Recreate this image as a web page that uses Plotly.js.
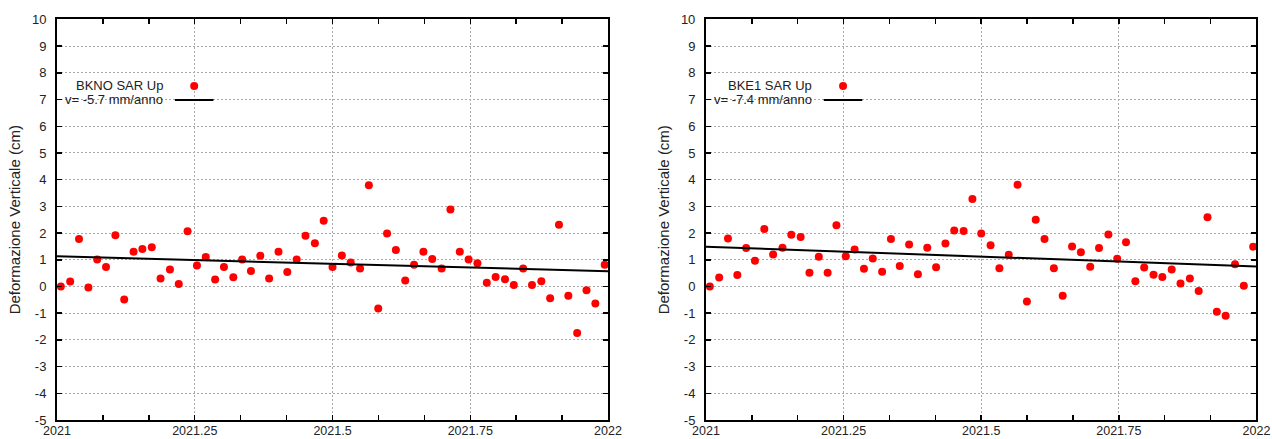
<!DOCTYPE html>
<html>
<head>
<meta charset="utf-8">
<script src="https://cdn.plot.ly/plotly-3.0.1.min.js"></script>
<style>
  html, body { margin: 0; padding: 0; background: #fff; }
  #chart { width: 1272px; height: 439px; }
</style>
</head>
<body>
<div id="chart"></div>
<script>
// Acquisition dates (decimal years)
const dates = [2021.007, 2021.024, 2021.040, 2021.057, 2021.073, 2021.089, 2021.106, 2021.122, 2021.139, 2021.155,
  2021.172, 2021.188, 2021.205, 2021.221, 2021.237, 2021.254, 2021.270, 2021.287, 2021.303, 2021.320,
  2021.336, 2021.352, 2021.369, 2021.385, 2021.402, 2021.418, 2021.435, 2021.451, 2021.468, 2021.484,
  2021.500, 2021.517, 2021.533, 2021.550, 2021.566, 2021.583, 2021.599, 2021.615, 2021.632, 2021.648,
  2021.665, 2021.681, 2021.698, 2021.714, 2021.731, 2021.747, 2021.763, 2021.780, 2021.796, 2021.813,
  2021.829, 2021.846, 2021.862, 2021.879, 2021.895, 2021.911, 2021.928, 2021.944, 2021.961, 2021.977,
  2021.994];

// BKNO SAR Up (cm)
const bknoUp = [0.00, 0.19, 1.78, -0.04, 1.01, 0.73, 1.92, -0.49, 1.30, 1.40,
  1.47, 0.30, 0.64, 0.09, 2.07, 0.79, 1.10, 0.26, 0.73, 0.35,
  1.01, 0.58, 1.15, 0.30, 1.30, 0.54, 1.01, 1.90, 1.62, 2.46,
  0.73, 1.16, 0.90, 0.67, 3.79, -0.82, 1.98, 1.37, 0.22, 0.81,
  1.30, 1.03, 0.67, 2.88, 1.30, 1.01, 0.87, 0.14, 0.36, 0.27,
  0.06, 0.67, 0.06, 0.20, -0.44, 2.31, -0.35, -1.74, -0.14, -0.64,
  0.81];

// BKE1 SAR Up (cm)
const bke1Up = [0.00, 0.34, 1.80, 0.43, 1.44, 0.96, 2.15, 1.20, 1.45, 1.94,
  1.85, 0.51, 1.11, 0.51, 2.29, 1.13, 1.39, 0.66, 1.05, 0.55,
  1.78, 0.77, 1.57, 0.46, 1.45, 0.72, 1.61, 2.10, 2.08, 3.28,
  1.98, 1.54, 0.68, 1.19, 3.81, -0.56, 2.50, 1.78, 0.68, -0.35,
  1.50, 1.28, 0.74, 1.44, 1.95, 1.04, 1.66, 0.20, 0.71, 0.44,
  0.36, 0.64, 0.11, 0.30, -0.17, 2.59, -0.95, -1.10, 0.83, 0.03,
  1.49];

// Linear trends
const trendYears = [2021, 2022];
const bknoTrend = [1.13, 0.57];
const bke1Trend = [1.49, 0.75];

// Labels
const bknoName = 'BKNO SAR Up';
const bknoRate = 'v= -5.7 mm/anno';
const bke1Name = 'BKE1 SAR Up';
const bke1Rate = 'v= -7.4 mm/anno';
const yTitle = 'Deformazione Verticale (cm)';

// Ticks
const xTickVals = [2021, 2021.25, 2021.5, 2021.75, 2022];
const xTickText = ['2021', '2021.25', '2021.5', '2021.75', '2022'];
const yTickVals = [-5, -4, -3, -2, -1, 0, 1, 2, 3, 4, 5, 6, 7, 8, 9, 10];
const yTickText = yTickVals.map(String);

const RED = 'rgb(255,0,0)';
const FONT = 'Liberation Sans, Arial, sans-serif';
const TXT = '#222';

const traces = [
  { x: dates, y: bknoUp, xaxis: 'x', yaxis: 'y', type: 'scatter', mode: 'markers',
    marker: { color: RED, size: 8 }, showlegend: false, hoverinfo: 'skip' },
  { x: trendYears, y: bknoTrend, xaxis: 'x', yaxis: 'y', type: 'scatter', mode: 'lines',
    line: { color: '#000', width: 2 }, showlegend: false, hoverinfo: 'skip' },
  { x: dates, y: bke1Up, xaxis: 'x2', yaxis: 'y2', type: 'scatter', mode: 'markers',
    marker: { color: RED, size: 8 }, showlegend: false, hoverinfo: 'skip' },
  { x: trendYears, y: bke1Trend, xaxis: 'x2', yaxis: 'y2', type: 'scatter', mode: 'lines',
    line: { color: '#000', width: 2 }, showlegend: false, hoverinfo: 'skip' }
];

function xAxis(domain, anchor) {
  return {
    domain: domain, anchor: anchor, range: [2021, 2022],
    tickmode: 'array', tickvals: xTickVals, ticktext: xTickText,
    ticks: 'inside', ticklen: 5, tickwidth: 1.5, tickcolor: '#000',
    showline: true, linecolor: '#000', linewidth: 2, mirror: 'ticks',
    showgrid: true, gridcolor: '#aaa', gridwidth: 1, griddash: '2px,2px',
    zeroline: false, automargin: false,
    tickfont: { family: FONT, size: 12.5, color: TXT },
    ticklabelstandoff: -2,
    minor: { dtick: 1/12, tick0: 2021, ticks: 'inside', ticklen: 5, tickwidth: 1.5, tickcolor: '#000', showgrid: false }
  };
}
function yAxis(anchor) {
  return {
    domain: [0.0433, 0.9556], anchor: anchor, range: [-5, 10],
    tickmode: 'array', tickvals: yTickVals, ticktext: yTickText,
    ticks: 'inside', ticklen: 5, tickwidth: 1.5, tickcolor: '#000',
    showline: true, linecolor: '#000', linewidth: 2, mirror: 'ticks',
    showgrid: true, gridcolor: '#aaa', gridwidth: 1, griddash: '2px,2px',
    zeroline: false, automargin: false,
    tickfont: { family: FONT, size: 13, color: TXT },
    ticklabelstandoff: 6,
    title: { text: yTitle, font: { family: FONT, size: 15, color: TXT }, standoff: 8 }
  };
}

function legendParts(xr, yr, name, rate) {
  const ann = [
    { xref: xr + ' domain', yref: yr + ' domain', x: 0.196, y: 0.836, text: name, showarrow: false,
      xanchor: 'right', yanchor: 'middle', font: { family: FONT, size: 13, color: TXT } },
    { xref: xr + ' domain', yref: yr + ' domain', x: 0.196, y: 0.799, text: rate, showarrow: false,
      xanchor: 'right', yanchor: 'middle', font: { family: FONT, size: 13, color: TXT } }
  ];
  const shp = [
    { type: 'circle', xref: xr + ' domain', yref: yr + ' domain', xsizemode: 'pixel', ysizemode: 'pixel',
      xanchor: 0.249, yanchor: 0.834, x0: -4, x1: 4, y0: -4, y1: 4,
      fillcolor: RED, line: { width: 0 } },
    { type: 'line', xref: xr + ' domain', yref: yr + ' domain', x0: 0.214, x1: 0.284, y0: 0.799, y1: 0.799,
      line: { color: '#000', width: 2 } }
  ];
  return { ann, shp };
}
const lg1 = legendParts('x', 'y', bknoName, bknoRate);
const lg2 = legendParts('x2', 'y2', bke1Name, bke1Rate);

const layout = {
  width: 1272, height: 439,
  margin: { l: 0, r: 0, t: 0, b: 0 },
  paper_bgcolor: '#fff', plot_bgcolor: '#fff',
  showlegend: false,
  xaxis: xAxis([0.0448, 0.478], 'y'),
  yaxis: yAxis('x'),
  xaxis2: xAxis([0.555, 0.9878], 'y2'),
  yaxis2: yAxis('x2'),
  annotations: lg1.ann.concat(lg2.ann),
  shapes: lg1.shp.concat(lg2.shp)
};

Plotly.newPlot('chart', traces, layout, { staticPlot: true, displayModeBar: false });
</script>
</body>
</html>
